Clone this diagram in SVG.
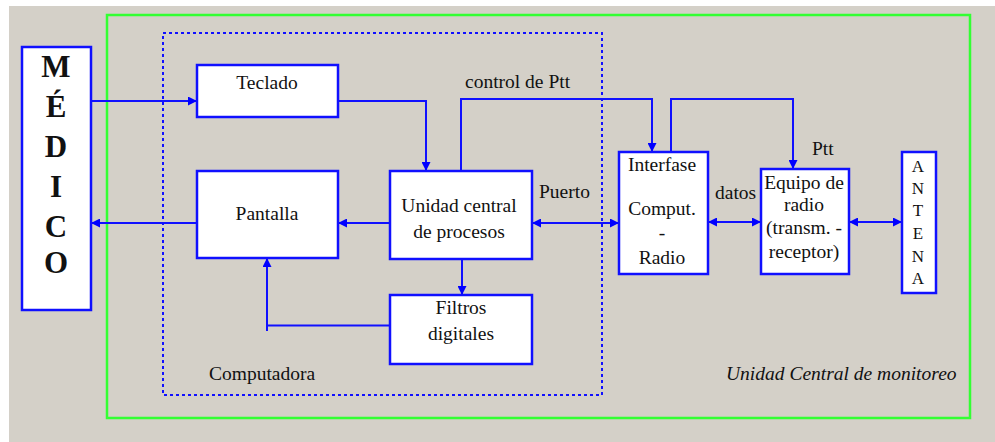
<svg xmlns="http://www.w3.org/2000/svg" width="995" height="442" viewBox="0 0 995 442">
<defs>
<marker id="ah" viewBox="0 0 10 10" refX="10" refY="5" markerWidth="9" markerHeight="9" markerUnits="userSpaceOnUse" orient="auto-start-reverse">
<path d="M0,0 L10,5 L0,10 z" fill="#0000ff"/>
</marker>
<style>
.bx{fill:#ffffff;stroke:#1010ff;stroke-width:2.5}
.ln{fill:none;stroke:#1010ff;stroke-width:2}
text{font-family:"Liberation Serif","Times New Roman","DejaVu Serif",serif;fill:#111}
.tx{font-size:19.5px}
.mid{text-anchor:middle}
.big{font-size:31px;font-weight:bold;text-anchor:middle}
.ant{font-size:17px;text-anchor:middle}
.it{font-style:italic}
</style>
</defs>
<rect x="0" y="0" width="995" height="442" fill="#ffffff"/>
<rect x="9" y="6" width="986" height="436" fill="#d4d0c8"/>
<rect id="monitoreo" x="107" y="15" width="863" height="403" fill="none" stroke="#33ff33" stroke-width="2.5"/>
<rect id="computadora" x="163" y="33" width="439" height="362" fill="none" stroke="#1010ff" stroke-width="2" stroke-dasharray="3,3"/>
<g id="connectors">
<path class="ln" d="M91,101 H197" marker-end="url(#ah)"/>
<path class="ln" d="M338,101 H426 V171" marker-end="url(#ah)"/>
<path class="ln" d="M390,223 H338" marker-end="url(#ah)"/>
<path class="ln" d="M197,223 H91" marker-end="url(#ah)"/>
<path class="ln" d="M462,259 V295" marker-end="url(#ah)"/>
<path class="ln" d="M390,325.5 H267 V258" marker-end="url(#ah)"/>
<path class="ln" d="M267,325 V331"/>
<path class="ln" d="M461,171 V99 H652 V152" marker-end="url(#ah)"/>
<path class="ln" d="M671,152 V99 H793 V169" marker-end="url(#ah)"/>
<path class="ln" d="M532,223 H619" marker-start="url(#ah)" marker-end="url(#ah)"/>
<path class="ln" d="M708,222 H761" marker-start="url(#ah)" marker-end="url(#ah)"/>
<path class="ln" d="M849,222 H902" marker-start="url(#ah)" marker-end="url(#ah)"/>
</g>
<g id="medico">
<rect class="bx" x="22" y="47" width="69" height="263"/>
<text class="big" x="56" y="77">M</text>
<text class="big" x="56" y="117">É</text>
<text class="big" x="56" y="157">D</text>
<text class="big" x="56" y="197">I</text>
<text class="big" x="56" y="237">C</text>
<text class="big" x="56" y="273">O</text>
</g>
<g id="teclado">
<rect class="bx" x="197" y="65" width="141" height="52"/>
<text class="tx mid" x="267" y="89">Teclado</text>
</g>
<g id="pantalla">
<rect class="bx" x="197" y="171" width="141" height="87"/>
<text class="tx mid" x="267" y="220">Pantalla</text>
</g>
<g id="unidad">
<rect class="bx" x="390" y="171" width="142" height="88"/>
<text class="tx mid" x="459" y="212">Unidad central</text>
<text class="tx mid" x="459" y="238">de procesos</text>
</g>
<g id="filtros">
<rect class="bx" x="390" y="295" width="142" height="69"/>
<text class="tx mid" x="461" y="314">Filtros</text>
<text class="tx mid" x="461" y="340">digitales</text>
</g>
<g id="interfase">
<rect class="bx" x="619" y="152" width="89" height="122"/>
<text class="tx mid" x="662" y="171">Interfase</text>
<text class="tx mid" x="662" y="215">Comput.</text>
<text class="tx mid" x="662" y="239">-</text>
<text class="tx mid" x="662" y="264">Radio</text>
</g>
<g id="equipo">
<rect class="bx" x="761" y="169" width="88" height="105"/>
<text class="tx mid" x="804" y="189">Equipo de</text>
<text class="tx mid" x="804" y="211">radio</text>
<text class="tx mid" x="804" y="234">(transm. -</text>
<text class="tx mid" x="804" y="258">receptor)</text>
</g>
<g id="antena">
<rect class="bx" x="902" y="152" width="34" height="141"/>
<text class="ant" x="918" y="172">A</text>
<text class="ant" x="918" y="194">N</text>
<text class="ant" x="918" y="216">T</text>
<text class="ant" x="918" y="239">E</text>
<text class="ant" x="918" y="262">N</text>
<text class="ant" x="918" y="284">A</text>
</g>
<g id="labels">
<text class="tx" x="465" y="88">control de Ptt</text>
<text class="tx" x="539" y="198">Puerto</text>
<text class="tx" x="715" y="199">datos</text>
<text class="tx" x="812" y="155">Ptt</text>
<text class="tx" x="209" y="380">Computadora</text>
<text class="tx it" x="726" y="380">Unidad Central de monitoreo</text>
</g>
</svg>
